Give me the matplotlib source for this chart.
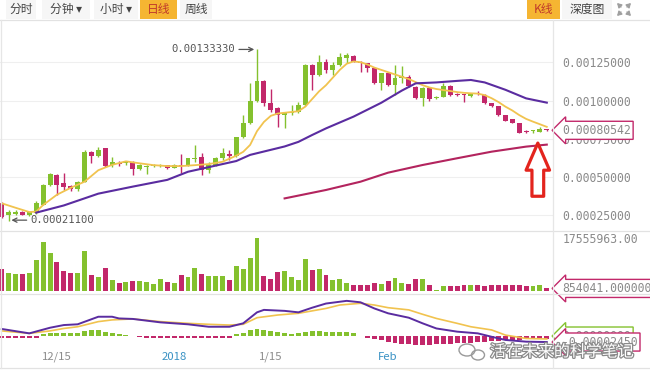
import numpy as np
import pandas as pd
import matplotlib
matplotlib.use("Agg")
import matplotlib.pyplot as plt
from matplotlib.patches import Rectangle, Ellipse
import matplotlib.patheffects as pe

plt.rcParams['font.family'] = ['Noto Sans CJK SC', 'DejaVu Sans']

# ---- data (prices in units of 1e-3) ----
dates = pd.date_range('2017-12-07', periods=80, freq='D')
opens = np.array([
    0.330, 0.253, 0.262, 0.274, 0.253, 0.268, 0.318, 0.449, 0.514, 0.459,
    0.442, 0.420, 0.470, 0.666, 0.638, 0.688, 0.579, 0.592, 0.592, 0.601,
    0.551, 0.564, 0.575, 0.573, 0.579, 0.562, 0.579, 0.573, 0.620, 0.634,
    0.546, 0.579, 0.627, 0.651, 0.638, 0.760, 0.851, 0.999, 1.130, 0.982,
    0.949, 0.905, 0.921, 0.927, 0.971, 1.232, 1.166, 1.254, 1.199, 1.232,
    1.278, 1.290, 1.254, 1.243, 1.210, 1.116, 1.177, 1.101, 1.150, 1.156,
    1.090, 1.014, 1.080, 1.014, 1.025, 1.095, 1.042, 1.038, 1.029, 1.049,
    1.036, 0.982, 0.964, 0.905, 0.877, 0.851, 0.799, 0.799, 0.797, 0.808]) * 1e-3
highs = np.array([
    0.335, 0.285, 0.285, 0.278, 0.275, 0.345, 0.455, 0.530, 0.518, 0.525,
    0.447, 0.475, 0.680, 0.672, 0.699, 0.690, 0.634, 0.602, 0.606, 0.605,
    0.584, 0.580, 0.585, 0.584, 0.582, 0.584, 0.651, 0.627, 0.710, 0.660,
    0.601, 0.634, 0.688, 0.677, 0.765, 0.905, 1.112, 1.3333, 1.135, 1.073,
    0.955, 0.927, 0.971, 0.992, 1.235, 1.240, 1.297, 1.269, 1.254, 1.308,
    1.308, 1.295, 1.258, 1.248, 1.215, 1.182, 1.182, 1.232, 1.225, 1.165,
    1.095, 1.085, 1.085, 1.028, 1.112, 1.100, 1.048, 1.045, 1.052, 1.060,
    1.040, 0.985, 0.967, 0.908, 0.880, 0.855, 0.805, 0.807, 0.829, 0.816]) * 1e-3
lows = np.array([
    0.230, 0.211, 0.255, 0.250, 0.245, 0.262, 0.315, 0.445, 0.383, 0.416,
    0.410, 0.410, 0.465, 0.590, 0.634, 0.568, 0.568, 0.575, 0.582, 0.514,
    0.546, 0.520, 0.566, 0.565, 0.555, 0.558, 0.525, 0.570, 0.601, 0.514,
    0.525, 0.575, 0.612, 0.612, 0.634, 0.755, 0.845, 0.990, 0.964, 0.927,
    0.829, 0.818, 0.905, 0.920, 0.965, 1.069, 1.160, 1.177, 1.166, 1.225,
    1.243, 1.250, 1.188, 1.188, 1.110, 1.069, 1.095, 1.036, 1.112, 1.090,
    1.008, 0.964, 1.000, 1.010, 1.020, 1.030, 1.030, 0.992, 1.025, 1.035,
    0.978, 0.960, 0.900, 0.864, 0.850, 0.786, 0.788, 0.790, 0.795, 0.799]) * 1e-3
closes = np.array([
    0.240, 0.274, 0.274, 0.253, 0.270, 0.329, 0.449, 0.520, 0.449, 0.438,
    0.420, 0.470, 0.666, 0.638, 0.677, 0.573, 0.597, 0.588, 0.596, 0.551,
    0.579, 0.575, 0.578, 0.576, 0.557, 0.579, 0.570, 0.623, 0.625, 0.546,
    0.579, 0.627, 0.655, 0.638, 0.760, 0.851, 0.999, 1.130, 0.982, 0.938,
    0.905, 0.921, 0.927, 0.971, 1.232, 1.166, 1.254, 1.199, 1.232, 1.282,
    1.297, 1.254, 1.243, 1.210, 1.116, 1.177, 1.101, 1.149, 1.156, 1.095,
    1.014, 1.080, 1.008, 1.025, 1.095, 1.036, 1.038, 1.034, 1.047, 1.045,
    0.982, 0.964, 0.905, 0.868, 0.855, 0.790, 0.795, 0.803, 0.816, 0.80542]) * 1e-3

# volume in millions
volumes = np.array([
    7.18, 6.07, 5.63, 5.63, 5.96, 10.16, 16.2, 12.6, 9.6, 6.6,
    5.96, 5.96, 13.25, 5.19, 4.64, 7.62, 3.53, 2.76, 2.98, 3.31,
    3.2, 2.98, 2.43, 3.86, 2.98, 2.65, 5.19, 4.64, 7.62, 5.63,
    4.86, 4.86, 4.97, 3.75, 8.28, 7.29, 10.9, 17.555963, 4.97, 4.09,
    6.29, 6.62, 4.64, 3.75, 10.5, 7.07, 7.4, 5.19, 3.53, 3.86,
    2.76, 1.88, 1.88, 2.1, 2.76, 2.43, 3.2, 4.42, 2.76, 2.21,
    3.86, 3.86, 2.1, 0.22, 1.66, 1.66, 1.55, 1.88, 1.88, 2.1,
    1.66, 1.88, 1.88, 1.88, 1.88, 2.1, 1.66, 1.66, 1.88, 0.854041]) * 1e6

# moving averages (index, price*1e3)
ma5_idx = [0, 2, 4, 5, 6, 8, 10, 12, 14, 16, 18, 20, 22, 24, 26, 28, 30, 32, 34, 35, 36,
           37, 38, 39, 40, 41, 42, 43, 44, 45, 46, 47, 48, 49, 50, 51, 52, 53, 54, 55,
           56, 57, 58, 59, 60, 61, 62, 63, 64, 65, 66, 67, 68, 69, 70, 71, 72, 73, 74,
           75, 76, 77, 78, 79]
ma5_val = [0.329, 0.300, 0.272, 0.275, 0.318, 0.385, 0.430, 0.470, 0.545, 0.580, 0.603,
           0.590, 0.578, 0.572, 0.572, 0.578, 0.585, 0.600, 0.640, 0.665, 0.710,
           0.800, 0.860, 0.900, 0.915, 0.920, 0.925, 0.930, 0.960, 1.010, 1.060,
           1.100, 1.150, 1.200, 1.240, 1.255, 1.250, 1.235, 1.215, 1.200, 1.185,
           1.170, 1.155, 1.140, 1.120, 1.100, 1.085, 1.075, 1.068, 1.062, 1.055,
           1.050, 1.047, 1.045, 1.035, 1.015, 0.990, 0.960, 0.935, 0.905, 0.880,
           0.862, 0.845, 0.828]
ma30_idx = [5, 9, 14, 19, 24, 27, 31, 34, 36, 41, 43, 45, 47, 51, 55, 58, 60, 63, 66, 68,
            70, 73, 76, 79]
ma30_val = [0.268, 0.315, 0.392, 0.438, 0.482, 0.535, 0.575, 0.605, 0.645, 0.700, 0.730,
            0.775, 0.818, 0.895, 0.985, 1.065, 1.112, 1.118, 1.128, 1.134, 1.118, 1.070,
            1.014, 0.986]
ma60_idx = [41, 47, 52, 56, 61, 66, 71, 76, 79]
ma60_val = [0.361, 0.416, 0.470, 0.529, 0.579, 0.623, 0.666, 0.699, 0.712]

# MACD (units of 1e-6)
macd_hist = np.array([
    -8, -9, -9, -10, -10, -8,
    9, 11, 11, 11, 12, 14, 19, 23, 23, 18, 12, 9, 4, 1, -2,
    -7, -9, -9, -10, -10, -9, -9, -10, -10, -9, -9, -8, -6,
    7, 14, 25, 27, 25, 20, 16, 14, 9, 11, 18, 19, 20, 18, 18, 18, 15, 12, 2,
    -9, -12, -16, -23, -27, -31, -33, -35, -35, -35, -33, -33, -31, -29, -27, -27,
    -25, -23, -20, -20, -18, -18, -16, -14, -12, -12, -12]) * 1e-6
dif_idx = [0, 4, 7, 9, 11, 14, 16, 17, 19, 23, 27, 30, 33, 35, 37, 38, 41, 43, 45, 47,
           50, 52, 54, 56, 59, 61, 63, 66, 69, 71, 73, 76, 79]
dif_val = [29, 11, 34, 45, 48, 79, 79, 72, 70, 56, 48, 38, 38, 52, 97, 107, 103, 97, 116,
           133, 144, 138, 113, 93, 75, 52, 31, 18, 11, -3, -16, -23, -24.5]
dea_idx = [0, 4, 7, 9, 11, 14, 16, 19, 23, 27, 30, 33, 35, 37, 40, 43, 47, 49, 52, 54,
           56, 59, 61, 63, 66, 68, 71, 73, 76, 79]
dea_val = [21, 11, 21, 31, 38, 59, 66, 70, 59, 52, 48, 45, 48, 75, 86, 93, 113, 127, 134,
           127, 116, 107, 89, 72, 52, 38, 25, 4, -10, -12]

price_ticks = [0.00025, 0.0005, 0.00075, 0.001, 0.00125]
date_ticks = ['2017-12-15', '2018-01-01', '2018-01-15', '2018-02-01']
date_labels = ['12/15', '2018', '1/15', 'Feb']
date_colors = ['#8c8c8c', '#3a92c4', '#8c8c8c', '#3a92c4']

GREEN = '#84c12e'
RED = '#c2286a'
YELLOW = '#f1c34f'
PURPLE = '#5a2ca0'
LONG = '#b3245e'
MONO = 'DejaVu Sans Mono'
LABEL = '#8a8a8a'

W, H = 650, 377
fig = plt.figure(figsize=(6.5, 3.77), dpi=100)


def px_axes(x0, y0, x1, y1, **kw):
    return fig.add_axes([x0 / W, 1 - y1 / H, (x1 - x0) / W, (y1 - y0) / H], **kw)


def clean(ax):
    for s in ax.spines.values():
        s.set_visible(False)
    ax.set_xlim(-0.25, 79.9)
    ax.set_xticks([])
    ax.yaxis.tick_right()
    ax.tick_params(axis='y', length=0, pad=7, labelsize=8.3, labelcolor=LABEL)
    for t in ax.get_yticklabels():
        t.set_family(MONO)


x = np.arange(len(closes))
up = closes >= opens
colors = np.where(up, GREEN, RED)

# ---- price pane ----
ax = px_axes(0, 22, 553, 231)
ax.vlines(x, lows, highs, color=colors, lw=1.0, zorder=2)
body = np.maximum(np.abs(closes - opens), 7e-6)
ax.bar(x, body, bottom=np.minimum(opens, closes), width=0.72, color=colors, zorder=3)
ax.plot(np.array(ma5_idx), np.array(ma5_val) * 1e-3, color=YELLOW, lw=1.3, zorder=4)
ax.plot(np.array(ma30_idx), np.array(ma30_val) * 1e-3, color=PURPLE, lw=1.5, zorder=4)
ax.plot(np.array(ma60_idx), np.array(ma60_val) * 1e-3, color=LONG, lw=1.5, zorder=4)
ax.set_ylim(0.0001482, 0.0015124)
ax.set_yticks(price_ticks)
ax.set_yticklabels(['%.8f' % v for v in price_ticks])
ax.grid(axis='y', color='#efefef', lw=0.8)
ax.set_axisbelow(True)
clean(ax)

# high / low markers
hi = int(np.argmax(highs))
lo = int(np.argmin(lows))
ax.annotate('%.8f' % highs[hi], xy=(hi - 0.4, highs[hi]), xytext=(-14, 0),
            textcoords='offset points', ha='right', va='center', fontsize=7.6,
            family=MONO, color='#555555',
            arrowprops=dict(arrowstyle='->', color='#555555', lw=0.9, shrinkA=1, shrinkB=0))
ax.annotate('%.8f' % lows[lo], xy=(lo + 0.4, lows[lo] + 0.000008), xytext=(14, 0),
            textcoords='offset points', ha='left', va='center', fontsize=7.6,
            family=MONO, color='#555555',
            arrowprops=dict(arrowstyle='->', color='#555555', lw=0.9, shrinkA=1, shrinkB=0))

# last price box
yt = ax.get_yaxis_transform()
ax.text(1.016, closes[-1], '%.8f' % closes[-1], transform=yt, ha='left', va='center',
        fontsize=8.3, family=MONO, color=LABEL, clip_on=False, zorder=6,
        bbox=dict(boxstyle='larrow,pad=0.22', fc='white', ec=RED, lw=1.0))

# red hollow arrow pointing at the latest candles
ax.annotate('', xy=(77.7, 0.000722), xytext=(77.7, 0.000375),
            arrowprops=dict(arrowstyle='simple,head_length=1.5,head_width=1.3,tail_width=0.65',
                            mutation_scale=13, fc='white', ec='#e3241d', lw=2.3,
                            shrinkA=0, shrinkB=0), zorder=7)

# ---- volume pane ----
axv = px_axes(0, 231, 553, 291)
axv.bar(x, volumes, width=0.72, color=colors)
axv.set_ylim(0, 19.87e6)
axv.set_yticks([volumes.max()])
axv.set_yticklabels(['%.2f' % volumes.max()])
clean(axv)
axv.text(1.016, volumes[-1], '%.8f' % volumes[-1], transform=axv.get_yaxis_transform(),
         ha='left', va='center', fontsize=8.3, family=MONO, color=LABEL, clip_on=False,
         zorder=6, bbox=dict(boxstyle='larrow,pad=0.22', fc='white', ec=RED, lw=1.0))

# ---- MACD pane ----
axm = px_axes(0, 294, 553, 349)
hcol = np.where(macd_hist >= 0, GREEN, RED)
axm.bar(x, macd_hist, width=0.72, color=hcol)
axm.plot(dea_idx, np.array(dea_val) * 1e-6, color=YELLOW, lw=1.2)
axm.plot(dif_idx, np.array(dif_val) * 1e-6, color=PURPLE, lw=1.4)
axm.set_ylim(-53e-6, 172e-6)
axm.set_yticks([])
clean(axm)
tick_pos = [dates.get_loc(pd.Timestamp(d)) for d in date_ticks]
axm.set_xticks(tick_pos)
axm.set_xticklabels(date_labels)
axm.tick_params(axis='x', length=0, pad=2, labelsize=8.2)
for t, c in zip(axm.get_xticklabels(), date_colors):
    t.set_color(c)
mt = axm.get_yaxis_transform()
axm.text(1.016, 0, '0.00000000', transform=mt, ha='left', va='center', fontsize=8.3,
         family=MONO, color=LABEL, clip_on=False, zorder=5,
         bbox=dict(boxstyle='larrow,pad=0.22', fc='white', ec=GREEN, lw=1.0))
axm.text(1.016, dif_val[-1] * 1e-6, '%.8f' % (dif_val[-1] * 1e-6), transform=mt, ha='left',
         va='center', fontsize=8.3, family=MONO, color=LABEL, clip_on=False, zorder=6,
         bbox=dict(boxstyle='larrow,pad=0.22', fc='white', ec=RED, lw=1.0))

# ---- frame, toolbar and watermark ----
ov = fig.add_axes([0, 0, 1, 1], zorder=10, facecolor='none')
ov.set_xlim(0, W)
ov.set_ylim(H, 0)
ov.axis('off')
for yy in [20, 231, 294, 368]:
    ov.plot([0, W], [yy, yy], color='#e2e2e2', lw=0.9)
ov.plot([553, 553], [20, 368], color='#e6e6e6', lw=0.9)
ov.plot([1, 1], [20, 368], color='#e6e6e6', lw=0.9)

buttons = [('分时', 6, 36, False), ('分钟 ▾', 42, 90, False), ('小时 ▾', 94, 138, False),
           ('日线', 140, 177, True), ('周线', 180, 212, False),
           ('K线', 527, 560, True), ('深度图', 562, 612, False)]
for txt, b0, b1, on in buttons:
    ov.add_patch(Rectangle((b0, 0), b1 - b0, 19, fc='#f5b532' if on else '#f6f6f6',
                           ec='none'))
    ov.text((b0 + b1) / 2, 9.5, txt, ha='center', va='center', fontsize=8.5,
            color='#c0392b' if on else '#444444')

# fullscreen icon: four small corner arrows
for (x0, y0), (x1, y1) in [((621, 7), (617, 3)), ((627, 7), (631, 3)),
                           ((621, 12), (617, 16)), ((627, 12), (631, 16))]:
    ov.annotate('', xy=(x1, y1), xytext=(x0, y0),
                arrowprops=dict(arrowstyle='-|>,head_length=0.25,head_width=0.15',
                                color='#a0a0a0', lw=1.0, shrinkA=0, shrinkB=0))

ov.add_patch(Ellipse((467, 350), 16, 12, fill=False, ec='#9a9a9a', lw=1.0))
ov.add_patch(Ellipse((478, 355), 13, 10, fill=False, ec='#9a9a9a', lw=1.0))
ov.text(490, 352, '活在未来的科学笔记', ha='left', va='center', fontsize=11.5,
        color='white', style='italic',
        path_effects=[pe.withStroke(linewidth=1.8, foreground='#8a8a8a')])

fig.savefig('out.png', dpi=100)
